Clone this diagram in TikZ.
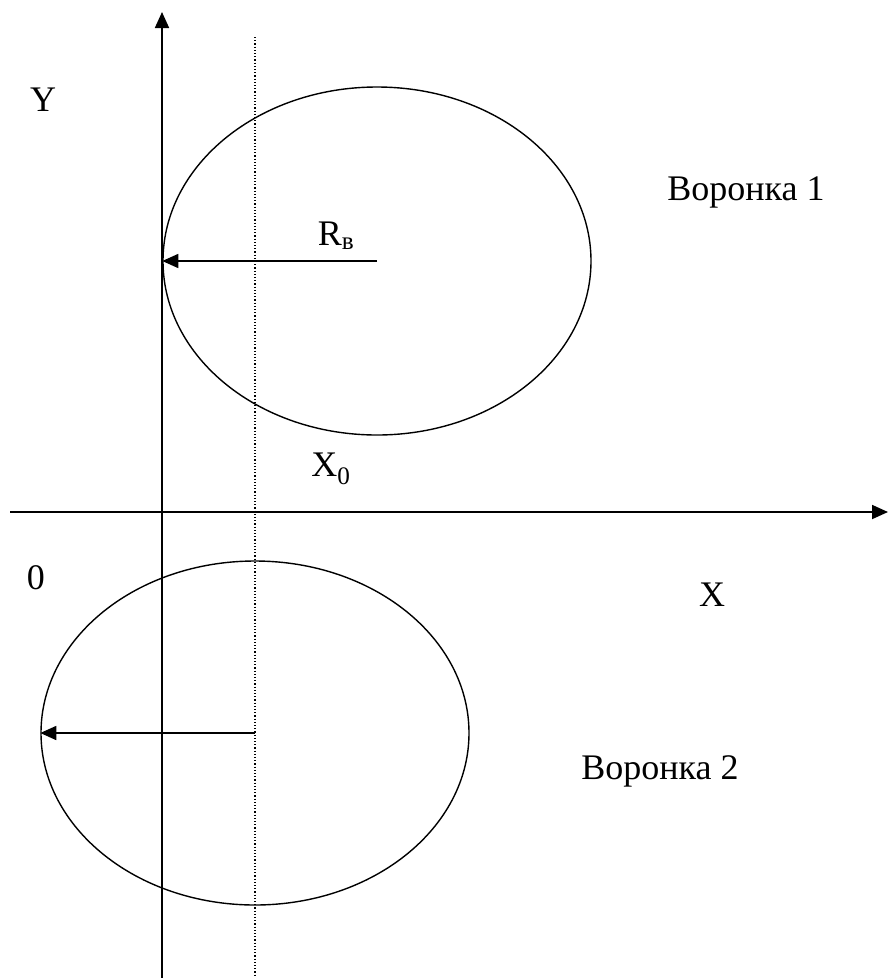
\documentclass[tikz,border=0pt]{standalone}
\usepackage{fontspec}
\setmainfont{Liberation Serif}
\usetikzlibrary{positioning,arrows.meta,shapes.geometric}

\begin{document}
\begin{tikzpicture}[x=1pt, y=-1pt,
    axis/.style={line width=1.8pt, -{Triangle[length=16pt, width=14pt]}},
    funnel/.style={draw, ellipse, line width=1.4pt, inner sep=0pt},
    radius/.style={line width=1.6pt, -{Triangle[length=16pt, width=14pt]}},
    lab/.style={font=\fontsize{36}{42}\selectfont},
]
\useasboundingbox (0, 0) rectangle (888, 978);

% axes
\coordinate (ybot) at (162, 978);
\coordinate (ytop) at (162, 12);
\coordinate (xleft) at (10, 512);
\coordinate (xright) at (888, 512);
\draw[axis] (ybot) -- (ytop);
\draw[axis] (xleft) -- (xright);

% dotted line x0
\coordinate (dtop) at (255, 37);
\coordinate (dbot) at (255, 978);
\draw[dotted, line width=1.2pt] (dtop) -- (dbot);

% funnel 1
\node[funnel, minimum width=428pt, minimum height=348pt] (f1) at (377, 261) {};
\draw[radius] (f1.center) -- (f1.west);

% funnel 2
\node[funnel, minimum width=428pt, minimum height=344pt] (f2) at (255, 733) {};
\draw[radius] (f2.center) -- (f2.west);

% labels
\node[lab] (ylab) at (43, 100) {Y};
\node[lab] (xlab) at (712, 595) {X};
\node[lab] (olab) at (36, 578) {0};
\node[lab] (x0lab) at (331, 469) {X\textsubscript{0}};
\node[lab] (rlab) at (336, 236) {R\textsubscript{в}};
\node[lab] (f1lab) at (746, 192) {Воронка 1};
\node[lab] (f2lab) at (660, 771) {Воронка 2};
\end{tikzpicture}
\end{document}
